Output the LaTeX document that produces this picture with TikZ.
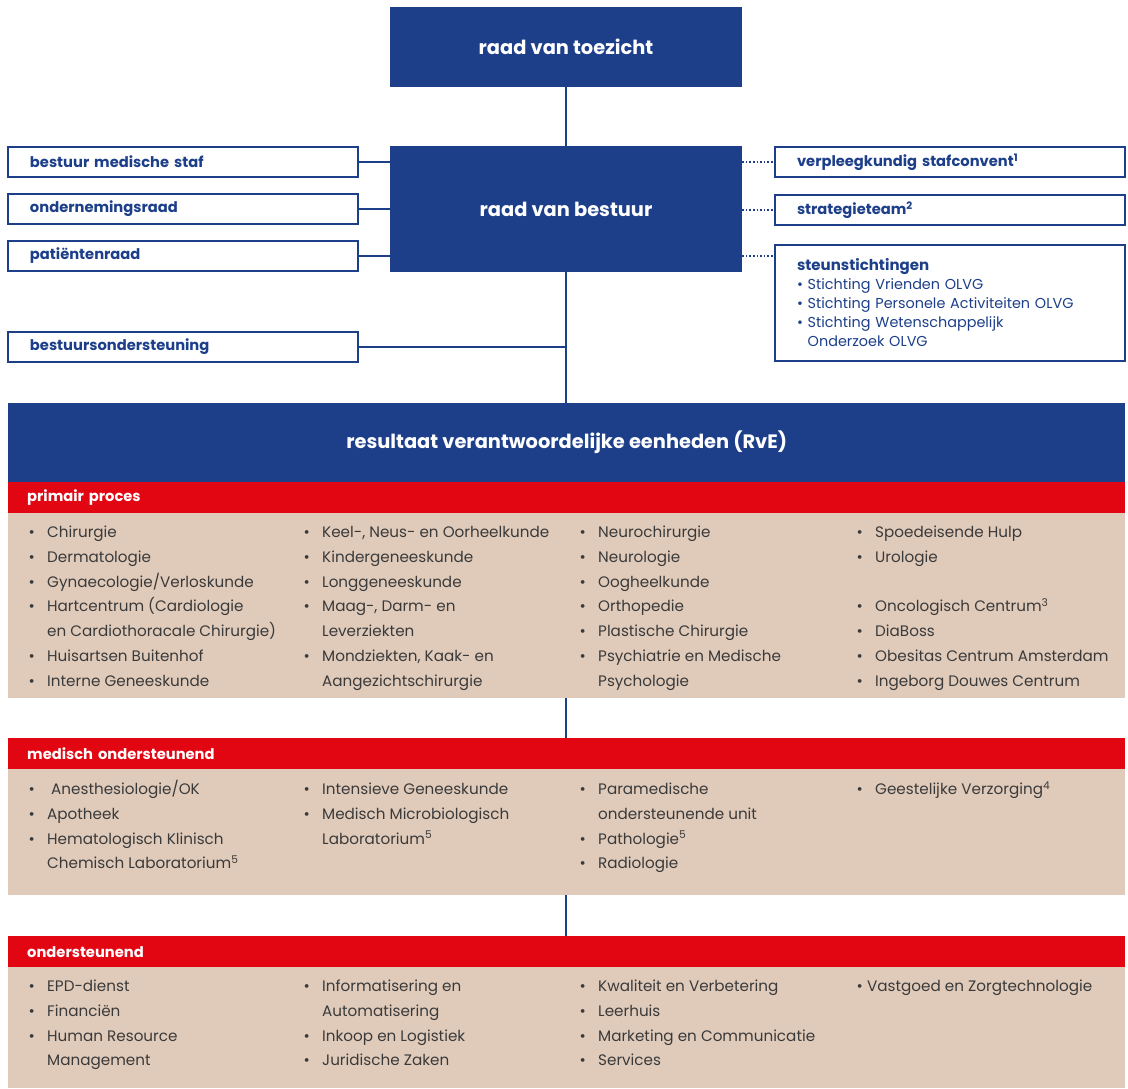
\documentclass[tikz,border=0pt]{standalone}
\usepackage{fontspec}
\setmainfont{Poppins}
\definecolor{oblue}{HTML}{1D3F8A}
\definecolor{ored}{HTML}{E20613}
\definecolor{obeige}{HTML}{E0CBBB}
\definecolor{otext}{HTML}{3A3A3A}
\newcommand\bl[4]{\node[itm] (#1) at (#2,#3+5.5) {\makebox[16pt][l]{\hspace*{-2.5pt}\textbullet}#4};}
\newcommand\cl[4]{\node[itm] (#1) at (#2,#3+5.5) {\hspace*{16pt}#4};}
\tikzset{
  bluebox/.style={fill=oblue, text=white, inner sep=0pt, font=\bfseries\fontsize{19.4}{22}\selectfont},
  sidebox/.style={draw=oblue, line width=2pt, fill=white, text=oblue, minimum width=350pt, minimum height=30pt,
     text width=306pt, inner xsep=22pt, inner ysep=0pt, align=left, font=\bfseries\fontsize{14.7}{17}\selectfont},
  redband/.style={fill=ored, text=white, anchor=north west, minimum width=1117pt, minimum height=31pt,
     text width=1079pt, inner xsep=19pt, inner ysep=0pt, align=left, font=\bfseries\fontsize{14.7}{17}\selectfont},
  beige/.style={fill=obeige, anchor=north west, minimum width=1117pt, inner sep=0pt},
  itm/.style={anchor=base west, inner sep=0pt, text=otext, font=\fontsize{15.2}{17}\selectfont},
  conn/.style={draw=oblue, line width=2pt},
  dotconn/.style={draw=oblue, line width=1.6pt, dash pattern=on 1.6pt off 2pt},
}
\begin{document}
\begin{tikzpicture}[x=1pt,y=-1pt]
\useasboundingbox (0,0) rectangle (1128,1089);
\fill[white] (0,0) rectangle (1128,1089);
% top boxes
\node[bluebox, minimum width=352pt, minimum height=80pt] (toezicht) at (566,47) {raad van toezicht};
\node[bluebox, minimum width=352pt, minimum height=126pt] (bestuur) at (566,209) {raad van bestuur};
% left boxes
\node[sidebox] (bms) at (183,162) {bestuur medische staf};
\node[sidebox] (or) at (183,209) {ondernemingsraad};
\node[sidebox] (pr) at (183,256) {patiëntenraad};
\node[sidebox] (bo) at (183,347) {bestuursondersteuning};
% right boxes
\node[sidebox] (vsc) at (950,162) {verpleegkundig stafconvent\textsuperscript{1}};
\node[sidebox] (st) at (950,210) {strategieteam\textsuperscript{2}};
\node[sidebox, minimum height=116pt, text=oblue, font=\fontsize{14.4}{19}\selectfont] (steun) at (950,303)
  {{\bfseries\fontsize{15}{19}\selectfont steunstichtingen}\\
   \textbullet\ Stichting Vrienden OLVG\\
   \textbullet\ Stichting Personele Activiteiten OLVG\\
   \textbullet\ Stichting Wetenschappelijk\\
   \phantom{\textbullet\ }Onderzoek OLVG};
\coordinate (steunin) at (775,256);
% RvE
\node[bluebox, anchor=north west, minimum width=1117pt, minimum height=79pt] (rve) at (8,403) {resultaat verantwoordelijke eenheden (RvE)};
\node[redband] (pp) at (8,482) {primair proces};
\node[beige, minimum height=185pt] (ppb) at (8,513) {};
\node[redband] (mo) at (8,738) {medisch ondersteunend};
\node[beige, minimum height=126pt] (mob) at (8,769) {};
\node[redband] (os) at (8,936) {ondersteunend};
\node[beige, minimum height=121pt] (osb) at (8,967) {};
% connectors
\draw[conn] (toezicht.south) -- (bestuur.north);
\draw[conn] (bestuur.south) -- (rve.north -| bestuur.south);
\draw[conn] (bms.east) -- (bms.east -| bestuur.west);
\draw[conn] (or.east) -- (or.east -| bestuur.west);
\draw[conn] (pr.east) -- (pr.east -| bestuur.west);
\draw[conn] (bo.east) -- (bo.east -| bestuur.south);
\draw[dotconn] (vsc.west -| bestuur.east) -- (vsc.west);
\draw[dotconn] (st.west -| bestuur.east) -- (st.west);
\draw[dotconn] (steunin -| bestuur.east) -- (steunin);
\draw[conn] (ppb.south -| bestuur.south) -- (mo.north -| bestuur.south);
\draw[conn] (mob.south -| bestuur.south) -- (os.north -| bestuur.south);
% primair proces items
\bl{p11}{31}{532}{Chirurgie}
\bl{p12}{31}{556.8}{Dermatologie}
\bl{p13}{31}{581.6}{Gynaecologie/Verloskunde}
\bl{p14}{31}{606.4}{Hartcentrum (Cardiologie}
\cl{p15}{31}{631.2}{en Cardiothoracale Chirurgie)}
\bl{p16}{31}{656}{Huisartsen Buitenhof}
\bl{p17}{31}{680.8}{Interne Geneeskunde}
\bl{p21}{306}{532}{Keel-, Neus- en Oorheelkunde}
\bl{p22}{306}{556.8}{Kindergeneeskunde}
\bl{p23}{306}{581.6}{Longgeneeskunde}
\bl{p24}{306}{606.4}{Maag-, Darm- en}
\cl{p25}{306}{631.2}{Leverziekten}
\bl{p26}{306}{656}{Mondziekten, Kaak- en}
\cl{p27}{306}{680.8}{Aangezichtschirurgie}
\bl{p31}{582}{532}{Neurochirurgie}
\bl{p32}{582}{556.8}{Neurologie}
\bl{p33}{582}{581.6}{Oogheelkunde}
\bl{p34}{582}{606.4}{Orthopedie}
\bl{p35}{582}{631.2}{Plastische Chirurgie}
\bl{p36}{582}{656}{Psychiatrie en Medische}
\cl{p37}{582}{680.8}{Psychologie}
\bl{p41}{859}{532}{Spoedeisende Hulp}
\bl{p42}{859}{556.8}{Urologie}
\bl{p44}{859}{606.4}{Oncologisch Centrum\textsuperscript{3}}
\bl{p45}{859}{631.2}{DiaBoss}
\bl{p46}{859}{656}{Obesitas Centrum Amsterdam}
\bl{p47}{859}{680.8}{Ingeborg Douwes Centrum}
% medisch ondersteunend items
\node[itm] (m11) at (31,789+5.5) {\makebox[20pt][l]{\hspace*{-2.5pt}\textbullet}Anesthesiologie/OK};
\bl{m12}{31}{813.8}{Apotheek}
\bl{m13}{31}{838.6}{Hematologisch Klinisch}
\cl{m14}{31}{863.4}{Chemisch Laboratorium\textsuperscript{5}}
\bl{m21}{306}{789}{Intensieve Geneeskunde}
\bl{m22}{306}{813.8}{Medisch Microbiologisch}
\cl{m23}{306}{838.6}{Laboratorium\textsuperscript{5}}
\bl{m31}{582}{789}{Paramedische}
\cl{m32}{582}{813.8}{ondersteunende unit}
\bl{m33}{582}{838.6}{Pathologie\textsuperscript{5}}
\bl{m34}{582}{863.4}{Radiologie}
\bl{m41}{859}{789}{Geestelijke Verzorging\textsuperscript{4}}
% ondersteunend items
\bl{o11}{31}{986}{EPD-dienst}
\bl{o12}{31}{1010.8}{Financiën}
\bl{o13}{31}{1035.6}{Human Resource}
\cl{o14}{31}{1060.4}{Management}
\bl{o21}{306}{986}{Informatisering en}
\cl{o22}{306}{1010.8}{Automatisering}
\bl{o23}{306}{1035.6}{Inkoop en Logistiek}
\bl{o24}{306}{1060.4}{Juridische Zaken}
\bl{o31}{582}{986}{Kwaliteit en Verbetering}
\bl{o32}{582}{1010.8}{Leerhuis}
\bl{o33}{582}{1035.6}{Marketing en Communicatie}
\bl{o34}{582}{1060.4}{Services}
\node[itm] (o41) at (859,986+5.5) {\makebox[8pt][l]{\hspace*{-2.5pt}\textbullet}Vastgoed en Zorgtechnologie};
\end{tikzpicture}
\end{document}
